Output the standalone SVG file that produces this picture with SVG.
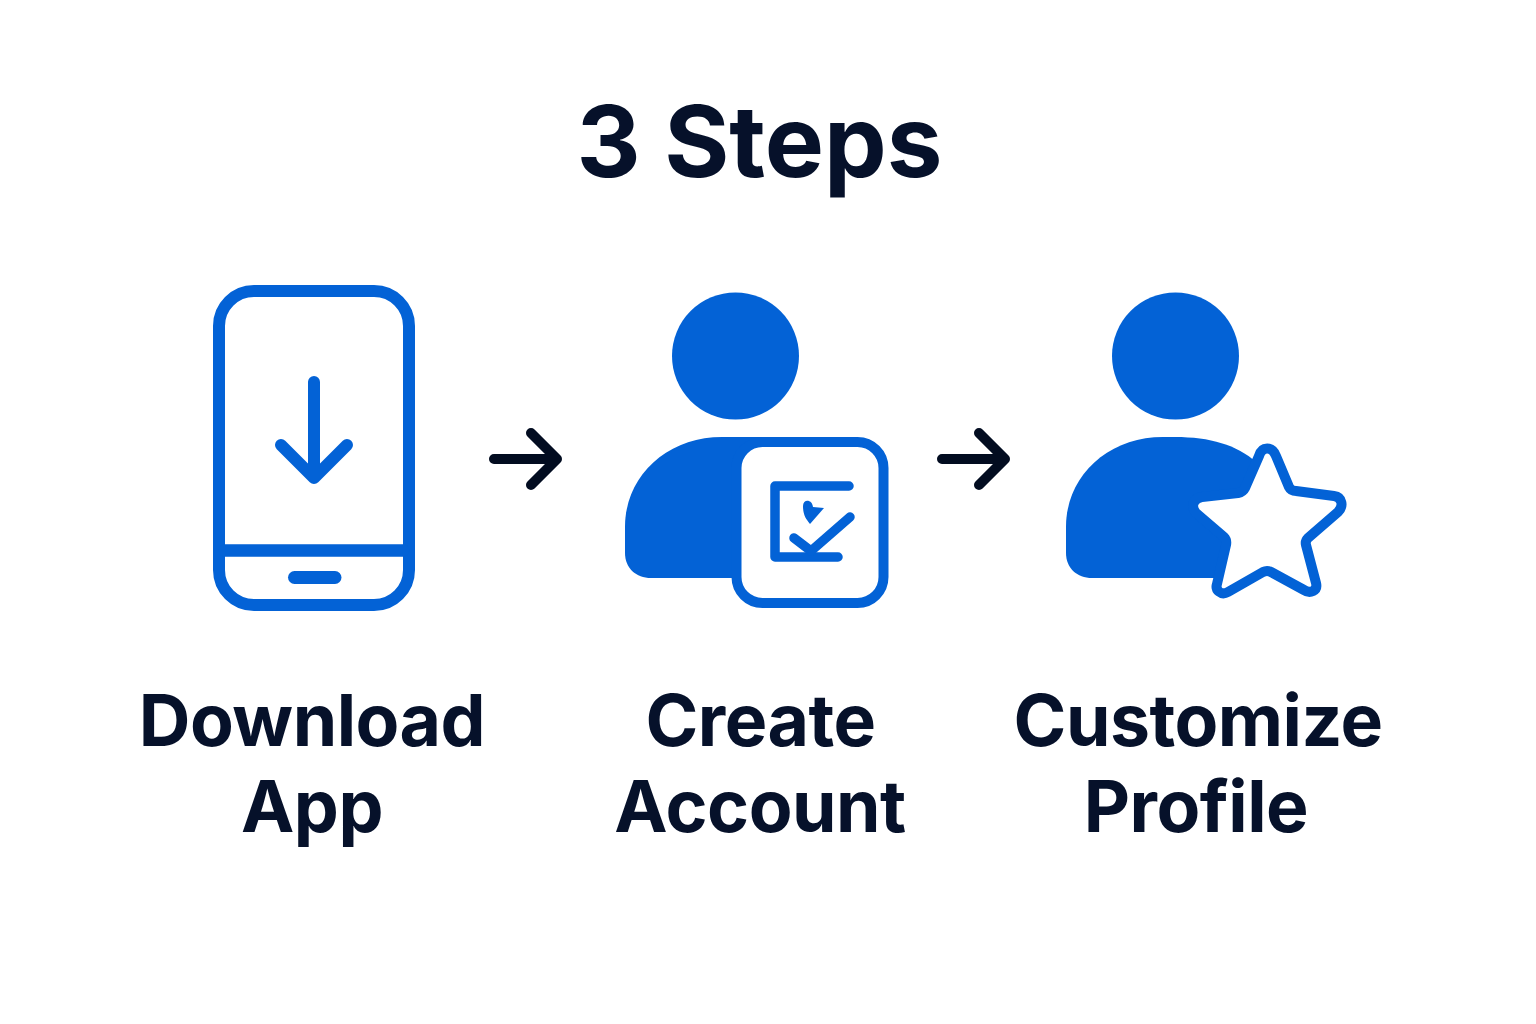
<svg xmlns="http://www.w3.org/2000/svg" width="1536" height="1024" viewBox="0 0 1536 1024">
<style>
.t{font-family:"Inter","Liberation Sans",sans-serif;font-weight:700;fill:#06112a;text-anchor:middle}
.l{font-size:71.500px;letter-spacing:-0.500px}
.b{fill:none;stroke:#0362d6;stroke-linecap:round;stroke-linejoin:round}
.f{fill:#0362d6}
.a{fill:none;stroke:#020c20;stroke-width:10;stroke-linecap:round;stroke-linejoin:round}
</style>
<rect width="1536" height="1024" fill="#fff"/>
<text id="title" class="t" x="759.500" y="177" font-size="99.500">3 Steps</text>
<g id="node-download">
<rect class="b" x="219" y="291" width="190" height="314" rx="35" stroke-width="12"/>
<path class="b" d="M225 550.500H403" stroke-width="12.500" stroke-linecap="butt"/>
<rect class="f" x="288" y="571" width="53.500" height="13" rx="6.500"/>
<path class="b" d="M314 382V478M281 445L314 478L347 445" stroke-width="12"/>
<text class="t l" x="312" y="746">Download</text>
<text class="t l" x="312" y="832">App</text>
</g>
<g id="node-account">
<circle class="f" cx="735.500" cy="356" r="63.500"/>
<path class="f" d="M625 553V527C625 475 668 437 722 437H770V578H651C636 578 625 568 625 553Z"/>
<rect x="736.500" y="442" width="147" height="161" rx="26" fill="#fff" stroke="#0362d6" stroke-width="10"/>
<path class="b" d="M849 486H775V557H838" stroke-width="9.500"/>
<path class="b" d="M794 538L811 551L850 517" stroke-width="9.500"/>
<path class="f" d="M803 506C803 499 812 499 813 507L824 508L810 524C806 519 803 515 803 506Z"/>
<text class="t l" x="760.500" y="746">Create</text>
<text class="t l" x="760" y="832">Account</text>
</g>
<g id="node-profile">
<circle class="f" cx="1175.500" cy="356" r="63.500"/>
<path class="f" d="M1066 553V527C1066 475 1109 437 1163 437H1175C1210 437 1237 445 1256 462L1240 578H1092C1077 578 1066 568 1066 553Z"/>
<path d="M1259 456C1262 446 1272 446 1276 456L1289 487Q1291 491 1296 491L1334 496C1342 497 1344 506 1338 512L1308 538Q1305 541 1306 545L1316 583C1318 591 1310 594 1304 590L1271 572Q1267 570 1263 572L1228 592C1221 596 1215 590 1217 584L1226 545Q1227 540 1224 537L1196 513C1190 506 1194 498 1202 497L1238 493Q1243 492 1245 488Z" fill="#fff" stroke="#0362d6" stroke-width="10" stroke-linejoin="round"/>
<text class="t l" x="1198" y="746">Customize</text>
<text class="t l" x="1196" y="832">Profile</text>
</g>
<g id="connectors">
<path class="a" d="M494 459H557M531 433L557 459L531 485"/>
<path class="a" d="M942 459H1005M979 433L1005 459L979 485"/>
</g>
</svg>
